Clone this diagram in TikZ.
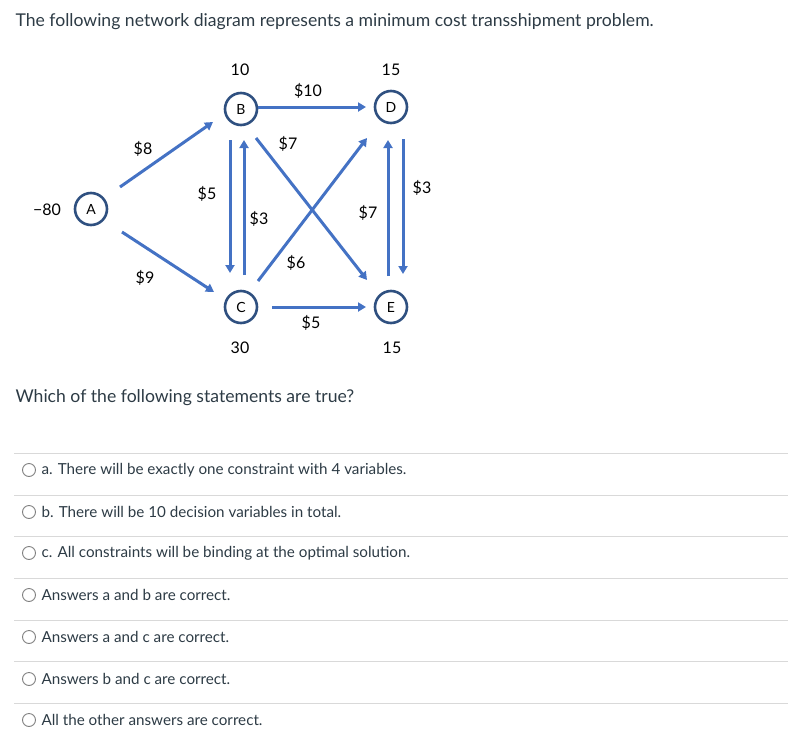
\documentclass[tikz,border=0pt]{standalone}
\usepackage{fontspec}
\setmainfont{Lato}
\usetikzlibrary{arrows.meta}
\definecolor{edge}{HTML}{4472C4}
\definecolor{ring}{HTML}{2F5080}
\definecolor{txt}{HTML}{2D3B45}
\begin{document}
\begin{tikzpicture}[x=1pt,y=-1pt,
  nd/.style={circle,draw=ring,line width=2.6pt,minimum size=32pt,inner sep=0pt,font=\fontsize{14}{16}\selectfont},
  ar/.style={draw=edge,line width=3pt,-{Triangle[length=8pt,width=9pt]}},
  lb/.style={font=\fontsize{16}{18}\selectfont,text=black},
  opt/.style={anchor=west,font=\fontsize{15.2}{17}\selectfont,text=txt},
  radio/.style={circle,draw=gray,line width=0.9pt,minimum size=13pt,inner sep=0pt},
  sep/.style={draw=black!15,line width=0.9pt}]
\useasboundingbox (0,0) rectangle (804,750);
\node[anchor=west,font=\fontsize{17.6}{20}\selectfont,text=txt] (title) at (12,22) {The following network diagram represents a minimum cost transshipment problem.};
\node[nd] (A) at (91,209) {A};
\node[nd] (B) at (241,109) {B};
\node[nd] (D) at (391,107) {D};
\node[nd] (C) at (241,307) {C};
\node[nd] (E) at (391,307) {E};
% connector endpoints
\coordinate (a1) at (120,187); \coordinate (b1) at (213,122);
\coordinate (a2) at (122,232); \coordinate (c1) at (214,292);
\coordinate (b2) at (258,107); \coordinate (d1) at (366,107);
\coordinate (c2) at (272,307); \coordinate (e1) at (366,307);
\coordinate (b3) at (230,140); \coordinate (c3) at (230,273);
\coordinate (c4) at (244,275); \coordinate (b4) at (244,140);
\coordinate (d2) at (403,139); \coordinate (e2) at (403,274);
\coordinate (e3) at (388,276); \coordinate (d3) at (388,140);
\coordinate (b5) at (256,138); \coordinate (e4) at (367,280);
\coordinate (c5) at (258,281); \coordinate (d4) at (367,138);
\draw[ar] (a1) -- (b1);
\draw[ar] (a2) -- (c1);
\draw[ar] (b2) -- (d1);
\draw[ar] (c2) -- (e1);
\draw[ar] (b3) -- (c3);
\draw[ar] (c4) -- (b4);
\draw[ar] (d2) -- (e2);
\draw[ar] (e3) -- (d3);
\draw[ar] (b5) -- (e4);
\draw[ar] (c5) -- (d4);
% labels
\node[lb] (l8) at (143,149) {\$8};
\node[lb] (l9) at (145,278) {\$9};
\node[lb] (l10) at (308,91) {\$10};
\node[lb] (l7a) at (288,144) {\$7};
\node[lb] (l5a) at (207,194) {\$5};
\node[lb] (l3a) at (259,219) {\$3};
\node[lb] (l6) at (296,263) {\$6};
\node[lb] (l5b) at (311,323) {\$5};
\node[lb] (l7b) at (368,213) {\$7};
\node[lb] (l3b) at (422,188) {\$3};
\node[lb] (sB) at (240,70) {10};
\node[lb] (sD) at (391,70) {15};
\node[lb] (sA) at (47,210) {\char"2212 80};
\node[lb] (sC) at (240,348) {30};
\node[lb] (sE) at (392,348) {15};
\node[anchor=west,font=\fontsize{17.6}{20}\selectfont,text=txt] (q) at (12,398) {Which of the following statements are true?};
% options
\foreach \y in {453,495,536,578,620,661,703} \draw[sep] (14,\y) -- (788,\y);
\node[radio] (r1) at (29,470) {}; \node[opt] (o1) at (38,470) {a. There will be exactly one constraint with 4 variables.};
\node[radio] (r2) at (29,512) {}; \node[opt] (o2) at (38,512) {b. There will be 10 decision variables in total.};
\node[radio] (r3) at (29,553) {}; \node[opt] (o3) at (38,553) {c. All constraints will be binding at the optimal solution.};
\node[radio] (r4) at (29,595) {}; \node[opt] (o4) at (38,595) {Answers a and b are correct.};
\node[radio] (r5) at (29,637) {}; \node[opt] (o5) at (38,637) {Answers a and c are correct.};
\node[radio] (r6) at (29,679) {}; \node[opt] (o6) at (38,679) {Answers b and c are correct.};
\node[radio] (r7) at (29,720) {}; \node[opt] (o7) at (38,720) {All the other answers are correct.};
\end{tikzpicture}
\end{document}
